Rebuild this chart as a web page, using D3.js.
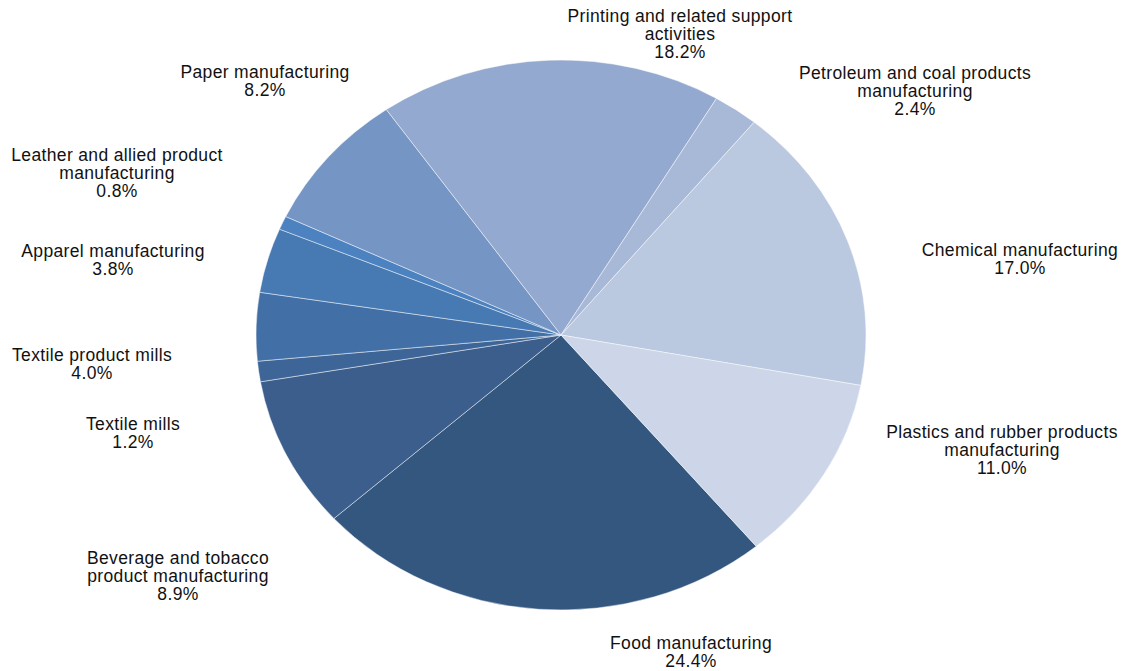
<!DOCTYPE html>
<html>
<head>
<meta charset="utf-8">
<script src="https://cdn.jsdelivr.net/npm/d3@7"></script>
<style>
  body { margin: 0; background: #fff; }
  text { font-family: "Liberation Sans", Arial, sans-serif; font-size: 17.5px; letter-spacing: 0.35px; fill: #111; }
</style>
</head>
<body>
<div id="viz-container"></div>
<script>
let w = 1123;
let h = 671;

// data, in slice order (clockwise)
let categories = [
  ["Food manufacturing"],
  ["Beverage and tobacco", "product manufacturing"],
  ["Textile mills"],
  ["Textile product mills"],
  ["Apparel manufacturing"],
  ["Leather and allied product", "manufacturing"],
  ["Paper manufacturing"],
  ["Printing and related support", "activities"],
  ["Petroleum and coal products", "manufacturing"],
  ["Chemical manufacturing"],
  ["Plastics and rubber products", "manufacturing"]
];
let shares = [24.4, 8.9, 1.2, 4.0, 3.8, 0.8, 8.2, 18.2, 2.4, 17.0, 11.0];

let colors = ["#34577f", "#3b5e8c", "#3e6597", "#4270a6", "#4779b2", "#4c82c0",
              "#7596c5", "#94a9cf", "#a8b9d8", "#bac8e0", "#ccd6e8"];

// label block: centre x, first line y
let labelAt = [
  [691, 643], [178, 558], [133, 424], [92, 355], [113, 251], [117, 155],
  [265, 72], [680, 16], [915, 73], [1020, 250], [1002, 432]
];

let cx = 561, cy = 335, ry = 275, rx = 305;
let start = 140.2 * Math.PI / 180;

let viz = d3.select("#viz-container")
  .append("svg")
  .attr("width", w)
  .attr("height", h);

let pie = d3.pie().sort(null).value(d => d)
  .startAngle(start).endAngle(start + 2 * Math.PI);
let arc = d3.arc().innerRadius(0).outerRadius(ry);

let pieGroup = viz.append("g")
  .attr("transform", "translate(" + cx + "," + cy + ") scale(" + (rx / ry) + ",1)");

pieGroup.selectAll("path").data(pie(shares)).enter()
  .append("path")
  .attr("d", arc)
  .attr("fill", (d, i) => colors[i])
  .attr("stroke", "#ffffff")
  .attr("stroke-opacity", 0.55)
  .attr("stroke-width", 0.8);

let labels = viz.selectAll(".lbl").data(shares).enter()
  .append("text")
  .attr("class", "lbl")
  .attr("text-anchor", "middle");

labels.each(function (d, i) {
  let t = d3.select(this);
  let lines = categories[i].concat([d.toFixed(1) + "%"]);
  lines.forEach((s, j) => {
    t.append("tspan")
      .attr("x", labelAt[i][0])
      .attr("y", labelAt[i][1] + j * 18)
      .attr("dy", "0.35em")
      .text(s);
  });
});
</script>
</body>
</html>
